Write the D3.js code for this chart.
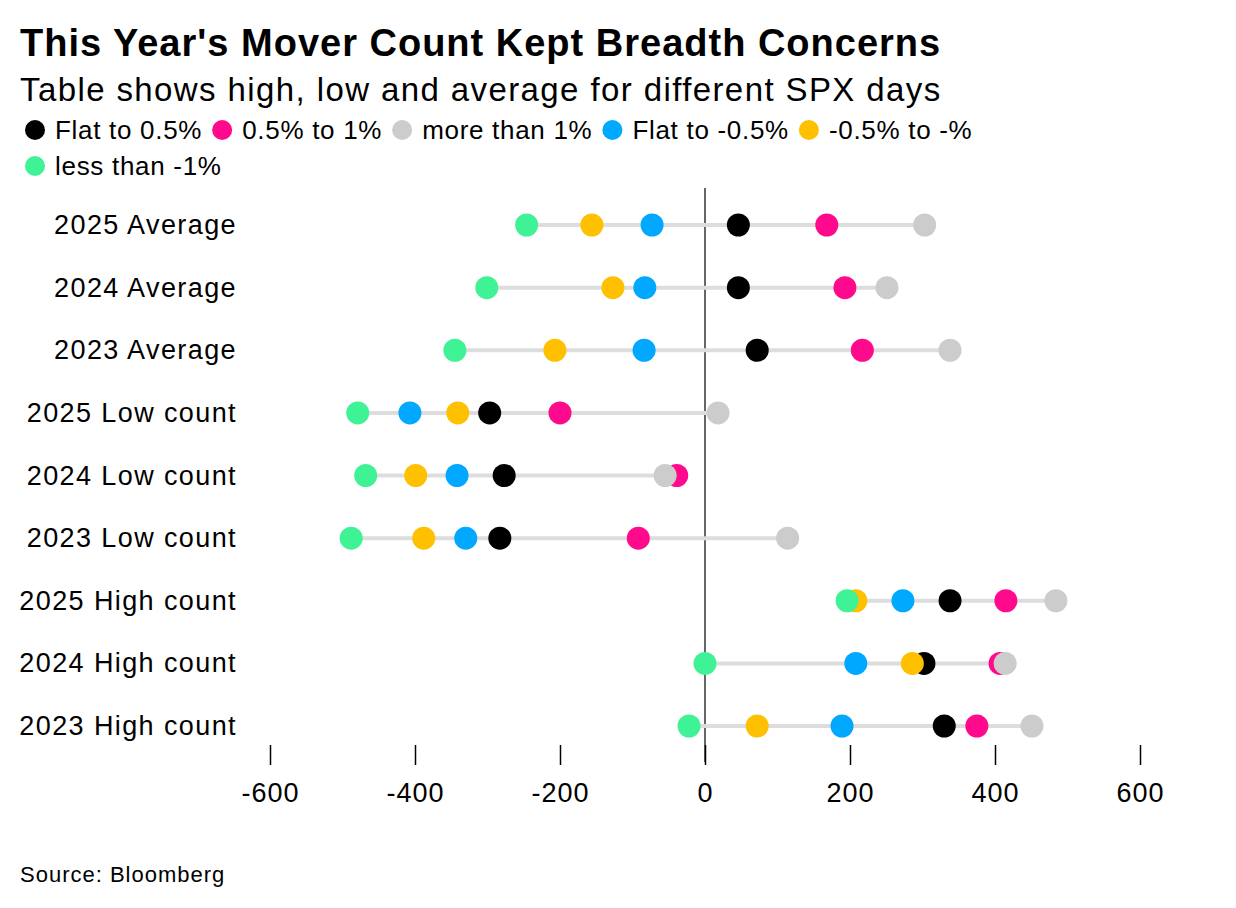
<!DOCTYPE html>
<html><head><meta charset="utf-8">
<script src="https://cdn.jsdelivr.net/npm/d3@7"></script>
<style>body{margin:0;background:#fff;font-family:"Liberation Sans",Arial,sans-serif}</style>
</head><body>
<svg id="chart" width="1236" height="908"></svg>
<script>
const rows = ["2025 Average","2024 Average","2023 Average","2025 Low count","2024 Low count","2023 Low count","2025 High count","2024 High count","2023 High count"];
const seriesNames = ["Flat to 0.5%","0.5% to 1%","more than 1%","Flat to -0.5%","-0.5% to -%","less than -1%"];
const colors = ["#000000","#ff0a8c","#cccccc","#00a8ff","#ffc000","#40f296"];
// values per series, in row order
const flatUp = [46,46,72,-297,-277,-283,338,302,330];
const upHalf = [168,193,217,-200,-39,-92,415,407,375];
const upMore = [303,251,338,18,-55,114,484,414,451];
const flatDown = [-73,-83,-84,-407,-342,-330,273,208,189];
const downHalf = [-156,-127,-207,-341,-399,-388,208,286,72];
const downMore = [-246,-301,-345,-479,-468,-488,196,0,-22];
const series = [flatUp,upHalf,upMore,flatDown,downHalf,downMore];
const ticks = [-600,-400,-200,0,200,400,600];

const svg = d3.select("#chart");
svg.append("text").attr("x",20).attr("y",56).attr("font-size",38).attr("letter-spacing",1).attr("font-weight","bold").text("This Year's Mover Count Kept Breadth Concerns");
svg.append("text").attr("x",20).attr("y",101).attr("font-size",33).attr("letter-spacing",1.4).text("Table shows high, low and average for different SPX days");

// legend
let lx = 35, ly = 130;
seriesNames.forEach((name,i) => {
    const g = svg.append("g");
    g.append("circle").attr("cx",lx).attr("cy",ly).attr("r",10).attr("fill",colors[i]);
    const t = g.append("text").attr("x",lx+20).attr("y",ly+9).attr("font-size",26).attr("letter-spacing",0.7).text(name);
    const w = t.node().getComputedTextLength();
    lx += w + 40;
    if (i === 4) { lx = 35; ly = 166; }
});

const x = d3.scaleLinear().domain([-600,600]).range([270,1140]);
const y = d3.scalePoint().domain(rows).range([225,726]);

svg.append("line").attr("x1",x(0)).attr("x2",x(0)).attr("y1",188).attr("y2",762).attr("stroke","#333").attr("stroke-width",1.5);

rows.forEach((r,j) => {
    const vals = series.map(s => s[j]);
    svg.append("line").attr("x1",x(d3.min(vals))).attr("x2",x(d3.max(vals)))
        .attr("y1",y(r)).attr("y2",y(r)).attr("stroke","#dddddd").attr("stroke-width",4);
    svg.append("text").attr("x",237).attr("y",y(r)+9).attr("text-anchor","end").attr("font-size",27).attr("letter-spacing",1.4).text(r);
});
series.forEach((s,i) => {
    svg.selectAll(null).data(s).enter().append("circle")
        .attr("cx",d => x(d)).attr("cy",(d,j) => y(rows[j])).attr("r",11.5).attr("fill",colors[i]);
});

const ax = svg.append("g").attr("transform","translate(0,745)")
    .call(d3.axisBottom(x).tickValues(ticks).tickSize(20).tickFormat(d3.format("d")));
ax.select(".domain").remove();
ax.selectAll("line").attr("stroke","#000").attr("stroke-width",1.5);
ax.selectAll("text").attr("font-size",27).attr("letter-spacing",1).attr("font-family","Liberation Sans, Arial, sans-serif").attr("dy","1.25em").text(d => d < 0 ? "-" + Math.abs(d) : d);

svg.append("text").attr("x",20).attr("y",882).attr("font-size",22).attr("letter-spacing",1).text("Source: Bloomberg");
</script>
</body></html>
